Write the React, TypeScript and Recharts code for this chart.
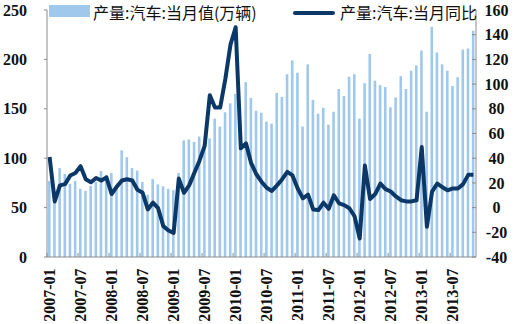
import React from "react";
import { ComposedChart, Bar, Line, XAxis, YAxis } from "recharts";

const months: string[] = [
  "2007-01","2007-02","2007-03","2007-04","2007-05","2007-06","2007-07","2007-08","2007-09","2007-10","2007-11","2007-12",
  "2008-01","2008-02","2008-03","2008-04","2008-05","2008-06","2008-07","2008-08","2008-09","2008-10","2008-11","2008-12",
  "2009-01","2009-02","2009-03","2009-04","2009-05","2009-06","2009-07","2009-08","2009-09","2009-10","2009-11","2009-12",
  "2010-01","2010-02","2010-03","2010-04","2010-05","2010-06","2010-07","2010-08","2010-09","2010-10","2010-11","2010-12",
  "2011-01","2011-02","2011-03","2011-04","2011-05","2011-06","2011-07","2011-08","2011-09","2011-10","2011-11","2011-12",
  "2012-01","2012-02","2012-03","2012-04","2012-05","2012-06","2012-07","2012-08","2012-09","2012-10","2012-11","2012-12",
  "2013-01","2013-02","2013-03","2013-04","2013-05","2013-06","2013-07","2013-08","2013-09","2013-10","2013-11",
];

// 产量:汽车:当月值(万辆)
const production: number[] = [
  77, 62, 90, 84, 74, 77, 69, 67, 72, 76, 87, 83,
  85, 72, 108, 101, 90, 87.5, 76, 63, 79, 73.5, 71.5, 69,
  67.5, 85, 118, 119, 116.5, 122, 115, 120, 140, 132, 146.5, 155.5,
  165, 126, 177, 161, 148, 146, 137, 135, 166, 162, 185, 199,
  186.5, 132, 195, 159, 145, 151, 134, 147, 170, 163, 182.5, 185,
  140, 176, 205.5, 178.5, 174, 172, 151.5, 161.5, 183, 170, 188.5, 194,
  209, 147, 233, 207, 195, 188.5, 173, 182, 210, 211, 229,
];

// 产量:汽车:当月同比 (%)
const yoy: number[] = [
  41, 5, 18, 19, 26, 28, 33.5, 23, 20.5, 24, 22, 24.5,
  11, 17, 22, 23, 22, 14.5, 12, -1.5, 4, -0.5, -15, -18.5,
  -20.5, 23.5, 12, 18, 28, 38, 50, 91, 81, 81, 104, 132,
  146, 48, 52, 36, 27, 21, 16, 13.5, 18, 23, 29, 26,
  15.5, 7.5, 10.5, -1.5, -2, 4, -1, 10, 3.5, 2, -0.5, -7,
  -25, 34, 7, 11, 19.5, 15, 13, 9, 6, 5, 5, 6,
  49, -15.5, 13, 19.5, 16.5, 14, 15.5, 15.5, 19, 26.5, 26.5,
];

const leftTicks: number[] = [0, 50, 100, 150, 200, 250];
const rightTicks: number[] = [-40, -20, 0, 20, 40, 60, 80, 100, 120, 140, 160];

const barName = "产量:汽车:当月值(万辆)";
const lineName = "产量:汽车:当月同比";

const data = months.map((m, i) => ({ month: m, prod: production[i], yoy: yoy[i] }));

const W = 520;
const H = 324;
const M = { top: 10, right: 0, bottom: 0, left: 0 };
const LEFT_W = 47;
const RIGHT_W = 44;
const X_H = 67;
const BAR_COLOR = "#9fc8ec";
const LINE_COLOR = "#0c3868";
const AXIS_COLOR = "#8c8c8c";
const TICK_FONT = "'Liberation Serif', 'Times New Roman', serif";
const TICK_SIZE = 16;
const band = (W - LEFT_W - RIGHT_W) / months.length;

const XTick = (props: any) => {
  const { x, y, payload } = props;
  const bx = x - band / 2;
  return (
    <g>
      <line x1={bx} y1={y - 4} x2={bx} y2={y} stroke={AXIS_COLOR} strokeWidth={1} />
      <text
        transform={`translate(${x - 0.5},${y + 11.5}) rotate(-90)`}
        textAnchor="end"
        dy="0.35em"
        fontFamily={TICK_FONT}
        fontWeight="bold"
        fontSize={TICK_SIZE}
        fill="#111"
      >
        {payload.value}
      </text>
    </g>
  );
};

const RightTick = (props: any) => {
  const { x, y, payload } = props;
  return (
    <g>
      <line x1={x - 4} y1={y} x2={x} y2={y} stroke={AXIS_COLOR} strokeWidth={1} />
      <text
        x={x + 20.5}
        y={y}
        dy="0.35em"
        textAnchor="middle"
        fontFamily={TICK_FONT}
        fontWeight="bold"
        fontSize={TICK_SIZE}
        fill="#111"
      >
        {payload.value}
      </text>
    </g>
  );
};

export default function App() {
  return (
    <div style={{ position: "absolute", left: 0, top: 0, width: W, height: H, background: "#fff" }}>
      <ComposedChart width={W} height={H} data={data} margin={M} barSize={2.6}>
        <XAxis
          dataKey="month"
          interval={5}
          height={X_H}
          stroke={AXIS_COLOR}
          tickLine={false}
          tickSize={0}
          tickMargin={0}
          tick={<XTick />}
        />
        <YAxis
          yAxisId="left"
          orientation="left"
          width={LEFT_W}
          domain={[0, 250]}
          ticks={leftTicks}
          stroke={AXIS_COLOR}
          tickSize={3}
          tickMargin={17}
          tick={{ fontFamily: TICK_FONT, fontWeight: "bold", fontSize: TICK_SIZE, fill: "#111" }}
          interval={0}
        />
        <YAxis
          yAxisId="right"
          orientation="right"
          width={RIGHT_W}
          domain={[-40, 160]}
          ticks={rightTicks}
          stroke={AXIS_COLOR}
          tickSize={0}
          tickMargin={0}
          tick={<RightTick />}
          interval={0}
        />
        <Bar yAxisId="left" dataKey="prod" name={barName} fill={BAR_COLOR} isAnimationActive={false} />
        <Line
          yAxisId="right"
          dataKey="yoy"
          name={lineName}
          type="linear"
          stroke={LINE_COLOR}
          strokeWidth={4}
          dot={false}
          strokeLinejoin="round"
          isAnimationActive={false}
        />
      </ComposedChart>
      <div
        style={{
          position: "absolute",
          left: 0,
          top: 0,
          width: W,
          height: 24,
          fontFamily: "'Noto Sans CJK SC', sans-serif",
          fontSize: 16,
          color: "#111",
          pointerEvents: "none",
        }}
      >
        <div style={{ position: "absolute", left: 49, top: 5, width: 41, height: 12, background: BAR_COLOR }} />
        <div style={{ position: "absolute", left: 93, top: 0, whiteSpace: "nowrap", lineHeight: "normal" }}>{barName}</div>
        <div style={{ position: "absolute", left: 293, top: 11, width: 42, height: 4, background: LINE_COLOR, borderRadius: 2 }} />
        <div style={{ position: "absolute", left: 340, top: 0, whiteSpace: "nowrap", lineHeight: "normal" }}>{lineName}</div>
      </div>
    </div>
  );
}
